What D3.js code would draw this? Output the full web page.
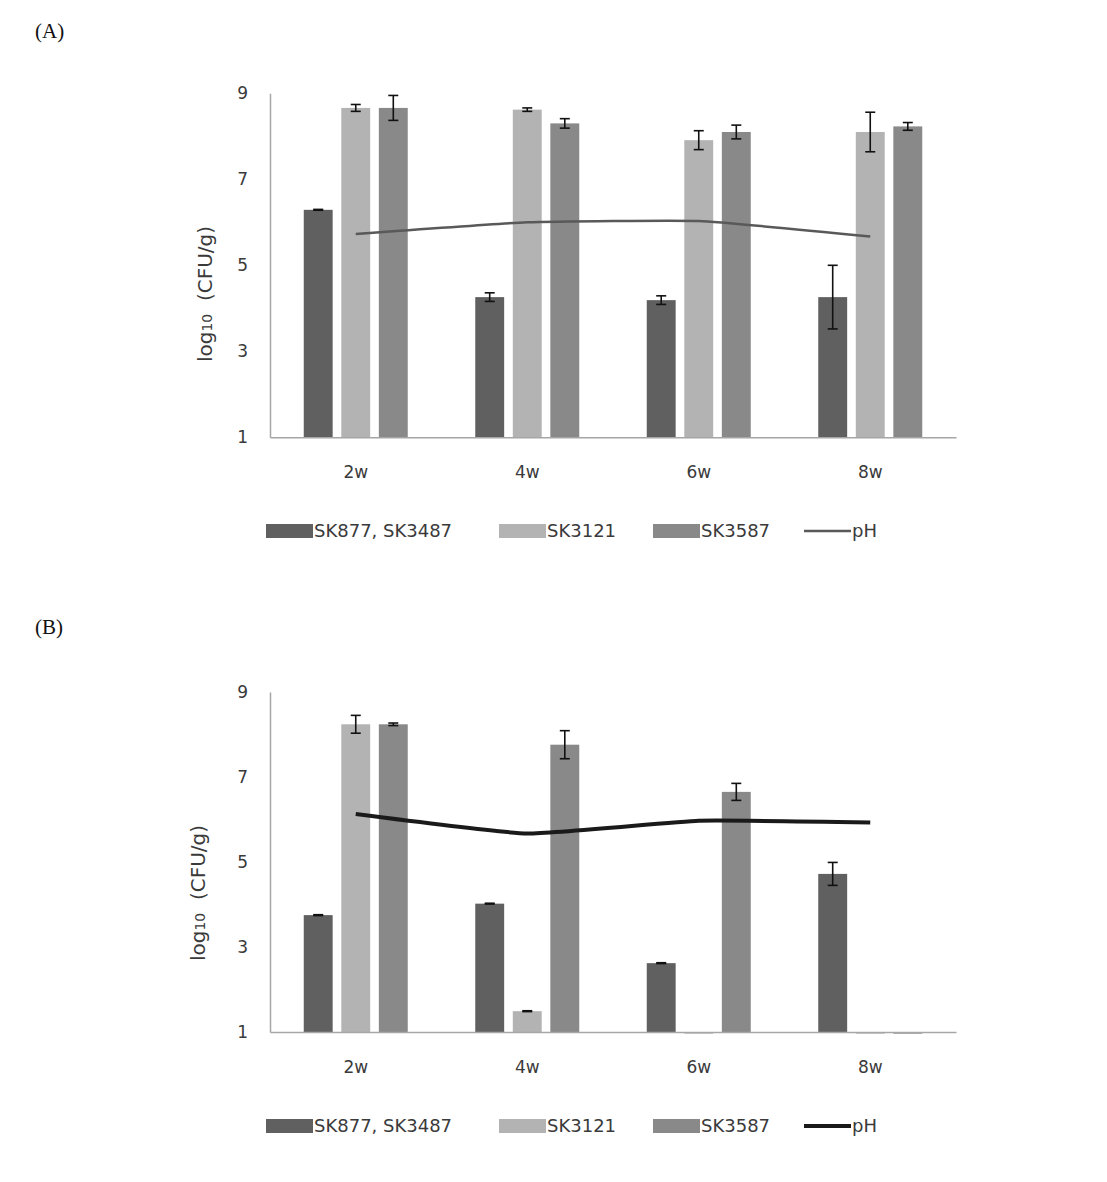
<!DOCTYPE html>
<html>
<head>
<meta charset="utf-8">
<script src="https://cdn.jsdelivr.net/npm/d3@7"></script>
<style>
  body { margin: 0; background: #fff; }
  svg { display: block; }
</style>
</head>
<body>
<svg id="fig" width="1107" height="1182"></svg>
<script>
// categories and series
const weeks = ['2w', '4w', '6w', '8w'];
const seriesNames = ['SK877, SK3487', 'SK3121', 'SK3587'];
const yTicks = [1, 3, 5, 7, 9];

// panel (A)
const aSK877 = [6.29, 4.26, 4.19, 4.26];
const aSK877Err = [0.01, 0.10, 0.10, 0.74];
const aSK3121 = [8.66, 8.62, 7.91, 8.10];
const aSK3121Err = [0.08, 0.04, 0.22, 0.46];
const aSK3587 = [8.66, 8.30, 8.10, 8.23];
const aSK3587Err = [0.29, 0.11, 0.16, 0.09];
const aPH = [5.73, 6.00, 6.03, 5.67];

// panel (B)
const bSK877 = [3.75, 4.02, 2.62, 4.72];
const bSK877Err = [0.01, 0.01, 0.01, 0.27];
const bSK3121 = [8.24, 1.49, 0.96, 0.96];
const bSK3121Err = [0.21, 0.01, null, null];
const bSK3587 = [8.24, 7.76, 6.65, 0.96];
const bSK3587Err = [0.03, 0.33, 0.20, null];
const bPH = [6.13, 5.67, 5.97, 5.93];

const barColors = ['#606060', '#b3b3b3', '#898989'];
const textColor = '#3a3a3a';
const axisColor = '#a6a6a6';
const font = '"DejaVu Sans", sans-serif';

let svg = d3.select('#fig');

function drawPanel(opt) {
    let g = svg.append('g');

    let x = d3.scaleBand()
        .domain(weeks)
        .range([270, 956]);
    let xInner = d3.scaleBand()
        .domain([0, 1, 2])
        .range([-52, 52])
        .paddingInner(0.23);
    let y = d3.scaleLinear()
        .domain([1, 9])
        .range([opt.bottom, opt.top]);

    // panel letter
    g.append('text')
        .attr('x', 35)
        .attr('y', opt.labelY)
        .style('font-family', '"Liberation Serif", serif')
        .style('font-size', '21px')
        .style('fill', '#111')
        .text(opt.label);

    // bars
    let rows = [];
    opt.values.forEach(function (vals, s) {
        vals.forEach(function (v, i) {
            rows.push({ week: weeks[i], s: s, v: v, err: opt.errors[s][i] });
        });
    });

    g.append('g').selectAll('rect')
        .data(rows)
        .enter()
        .append('rect')
        .attr('x', function (d) { return x(d.week) + x.bandwidth() / 2 + xInner(d.s); })
        .attr('y', function (d) { return Math.min(y(d.v), y(1)); })
        .attr('width', xInner.bandwidth())
        .attr('height', function (d) { return Math.max(Math.abs(y(1) - y(d.v)), 1); })
        .style('fill', function (d) { return barColors[d.s]; });

    // error bars
    let errRows = rows.filter(function (d) { return d.err != null; });
    let eb = g.append('g').selectAll('g')
        .data(errRows)
        .enter()
        .append('g')
        .attr('transform', function (d) {
            return 'translate(' + (x(d.week) + x.bandwidth() / 2 + xInner(d.s) + xInner.bandwidth() / 2) + ',0)';
        })
        .style('stroke', '#111')
        .style('stroke-width', 1.6);
    eb.append('line')
        .attr('y1', function (d) { return y(d.v + d.err); })
        .attr('y2', function (d) { return y(d.v - d.err); });
    eb.append('line')
        .attr('x1', -5).attr('x2', 5)
        .attr('y1', function (d) { return y(d.v + d.err); })
        .attr('y2', function (d) { return y(d.v + d.err); });
    eb.append('line')
        .attr('x1', -5).attr('x2', 5)
        .attr('y1', function (d) { return y(d.v - d.err); })
        .attr('y2', function (d) { return y(d.v - d.err); });

    // pH line (lightly smoothed)
    let line = d3.line()
        .x(function (d, i) { return x(weeks[i]) + x.bandwidth() / 2; })
        .y(function (d) { return y(d); })
        .curve(d3.curveCardinal.tension(0.6));
    g.append('path')
        .datum(opt.ph)
        .attr('d', line)
        .style('fill', 'none')
        .style('stroke', opt.lineColor)
        .style('stroke-width', opt.lineWidth);

    // axes
    let yAxis = g.append('g')
        .attr('transform', 'translate(270,0)')
        .call(d3.axisLeft(y).tickValues(yTicks).tickSize(0).tickSizeOuter(0).tickPadding(22));
    let xAxis = g.append('g')
        .attr('transform', 'translate(0,' + y(1) + ')')
        .call(d3.axisBottom(x).tickSize(0).tickSizeOuter(0).tickPadding(29));
    [yAxis, xAxis].forEach(function (a) {
        a.select('.domain').style('stroke', axisColor).style('stroke-width', 1.5);
        a.selectAll('text')
            .style('font-family', font)
            .style('fill', textColor);
    });
    yAxis.selectAll('text').style('font-size', '17px');
    xAxis.selectAll('text').style('font-size', '17px');

    // y title
    let title = g.append('text')
        .attr('transform', 'translate(' + opt.titleX + ',' + opt.titleY + ') rotate(-90)')
        .attr('text-anchor', 'middle')
        .attr('dy', '0.35em')
        .style('font-family', font)
        .style('font-size', '20px')
        .style('fill', textColor);
    title.append('tspan').text('log');
    title.append('tspan').style('font-size', '14px').text('10');
    title.append('tspan').text('\u00a0\u00a0(CFU/g)');

    // legend
    let legend = g.append('g').attr('transform', 'translate(0,' + opt.legendY + ')');
    let legendX = [266, 499, 653];
    seriesNames.forEach(function (name, s) {
        legend.append('rect')
            .attr('x', legendX[s]).attr('y', -7)
            .attr('width', 47).attr('height', 14)
            .style('fill', barColors[s]);
        legend.append('text')
            .attr('x', legendX[s] + 48).attr('y', 0)
            .attr('dy', '0.35em')
            .style('font-family', font)
            .style('font-size', '18px')
            .style('fill', textColor)
            .text(name);
    });
    legend.append('line')
        .attr('x1', 804).attr('x2', 851)
        .attr('y1', 0).attr('y2', 0)
        .style('stroke', opt.lineColor)
        .style('stroke-width', opt.lineWidth);
    legend.append('text')
        .attr('x', 852).attr('y', 0)
        .attr('dy', '0.35em')
        .style('font-family', font)
        .style('font-size', '18px')
        .style('fill', textColor)
        .text('pH');
}

drawPanel({
    label: '(A)', labelY: 38,
    top: 93.3, bottom: 437.3,
    values: [aSK877, aSK3121, aSK3587],
    errors: [aSK877Err, aSK3121Err, aSK3587Err],
    ph: aPH, lineColor: '#595959', lineWidth: 2.5,
    titleX: 205, titleY: 294,
    legendY: 531
});

drawPanel({
    label: '(B)', labelY: 634,
    top: 692, bottom: 1032,
    values: [bSK877, bSK3121, bSK3587],
    errors: [bSK877Err, bSK3121Err, bSK3587Err],
    ph: bPH, lineColor: '#1a1a1a', lineWidth: 4,
    titleX: 198, titleY: 893,
    legendY: 1126
});
</script>
</body>
</html>
